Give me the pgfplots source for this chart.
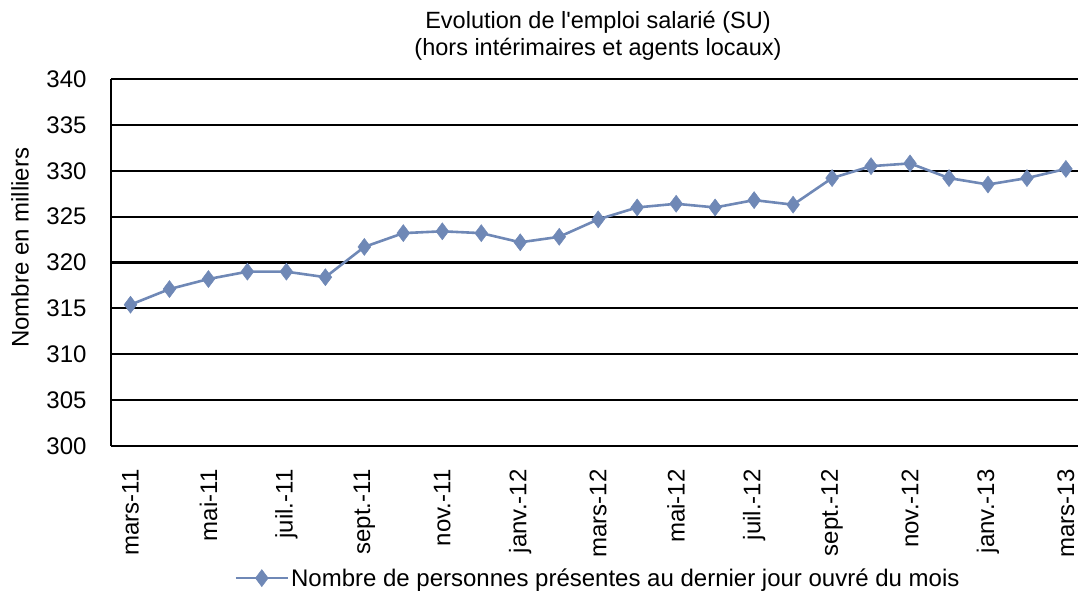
\documentclass[border=0pt]{standalone}
\usepackage{pgfplots}
\pgfplotsset{compat=1.18}
\usepackage{fontspec}
\setmainfont{Liberation Sans}[Ligatures=TeXOff]
\definecolor{serie}{HTML}{6F88B6}
\begin{document}
\begin{tikzpicture}[x=1pt,y=1pt]
\useasboundingbox (-111,-147) rectangle (967,446);
\begin{axis}[
  at={(0,0)}, anchor=south west,
  scale only axis, width=967pt, height=367pt,
  xmin=-0.5, xmax=24.31, ymin=300, ymax=340,
  ytick={300,305,...,340},
  xtick={0,2,...,24},
  xticklabels={mars-11,mai-11,juil.-11,sept.-11,nov.-11,janv.-12,mars-12,mai-12,juil.-12,sept.-12,nov.-12,janv.-13,mars-13},
  x tick label style={rotate=90, anchor=east, font=\fontsize{24}{28}\selectfont, xshift=-20pt},
  y tick label style={font=\fontsize{24}{28}\selectfont, xshift=-21pt},
  /pgf/number format/assume math mode=true,
  major tick length=0pt,
  axis x line*=bottom, axis y line*=left,
  axis line style={-, black, line width=2.2pt},
  ymajorgrids, grid style={black, line width=2.2pt},
  title={Evolution de l'emploi salarié (SU)\\(hors intérimaires et agents locaux)},
  title style={align=center, font=\fontsize{23.5}{27}\selectfont, at={(axis description cs:0.5036,1)}, anchor=south, yshift=9pt},
  ylabel={Nombre en milliers},
  ylabel style={font=\fontsize{24}{28}\selectfont, at={(axis description cs:-0.094,0.54)}, anchor=center},
  legend style={at={(axis description cs:0.5036,-0.36)}, anchor=center, draw=none, font=\fontsize{24}{28}\selectfont, legend cell align=left, inner xsep=0pt},
  legend image code/.code={\draw[#1, mark repeat=2, mark phase=2] plot coordinates {(0pt,0pt) (26pt,0pt) (52pt,0pt)};},
]
\addplot[serie, line width=2.6pt, mark=diamond*, mark size=8.5pt, mark options={fill=serie, draw=serie, line width=0.5pt}] coordinates {
(0,315.4) (1,317.1) (2,318.2) (3,319.0) (4,319.0) (5,318.4) (6,321.7) (7,323.2) (8,323.4) (9,323.2)
(10,322.2) (11,322.8) (12,324.7) (13,326.0) (14,326.4) (15,326.0) (16,326.8) (17,326.3) (18,329.2)
(19,330.5) (20,330.8) (21,329.2) (22,328.5) (23,329.2) (24,330.2)
};
\addlegendentry{Nombre de personnes présentes au dernier jour ouvré du mois}
\end{axis}
\end{tikzpicture}
\end{document}
